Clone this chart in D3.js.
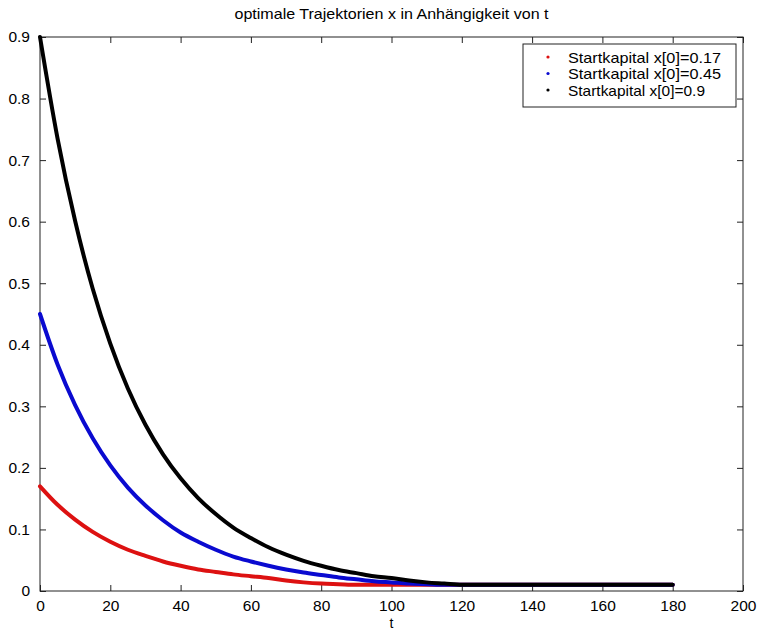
<!DOCTYPE html>
<html><head><meta charset="utf-8">
<script src="https://cdn.jsdelivr.net/npm/d3@7/dist/d3.min.js"></script>
<style>body{margin:0;background:#fff}svg{display:block}text{font-family:"Liberation Sans",Arial,sans-serif}</style>
</head><body><svg id="c" width="759" height="632"></svg>
<script>
const tValues = [0,5,10,15,20,25,30,35,40,45,50,55,60,65,70,75,80,85,90,95,100,105,110,115,120,125,130,135,140,145,150,155,160,165,170,175,180];
const red   = [0.170,0.140,0.116,0.096,0.080,0.067,0.057,0.048,0.041,0.035,0.031,0.027,0.024,0.021,0.017,0.014,0.012,0.011,0.010,0.010,0.010,0.010,0.010,0.010,0.010,0.010,0.010,0.010,0.010,0.010,0.010,0.010,0.010,0.010,0.010,0.010,0.010];
const blue  = [0.450,0.368,0.302,0.248,0.204,0.168,0.139,0.115,0.095,0.080,0.067,0.056,0.048,0.041,0.035,0.030,0.026,0.022,0.019,0.016,0.014,0.012,0.011,0.010,0.010,0.010,0.010,0.010,0.010,0.010,0.010,0.010,0.010,0.010,0.010,0.010,0.010];
const black = [0.900,0.735,0.601,0.491,0.402,0.329,0.270,0.222,0.183,0.151,0.125,0.103,0.086,0.071,0.059,0.049,0.041,0.034,0.029,0.024,0.021,0.017,0.014,0.012,0.010,0.010,0.010,0.010,0.010,0.010,0.010,0.010,0.010,0.010,0.010,0.010,0.010];
const seriesNames = ["Startkapital x[0]=0.17","Startkapital x[0]=0.45","Startkapital x[0]=0.9"];
const seriesColors = ["#dd1111","#0a0ad0","#000000"];
const xTicks = [0,20,40,60,80,100,120,140,160,180,200];
const yTicks = [0,0.1,0.2,0.3,0.4,0.5,0.6,0.7,0.8,0.9];
const title = "optimale Trajektorien x in Anhängigkeit von t";
const xLabel = "t";

const svg = d3.select("#c");
const L=40, R=743, T=37, B=591;
const x = d3.scaleLinear().domain([0,200]).range([L,R]);
const y = d3.scaleLinear().domain([0,0.9]).range([B,T]);
const axisColor = "#222";

svg.append("rect").attr("x",L).attr("y",T).attr("width",R-L).attr("height",B-T)
  .attr("fill","none").attr("stroke",axisColor).attr("stroke-width",1);

const fmtY = d => d===0 ? "0" : d3.format(".1f")(d);
const gx = svg.append("g").attr("transform",`translate(0,${B})`)
  .call(d3.axisBottom(x).tickValues(xTicks).tickSize(-6).tickPadding(9).tickFormat(d3.format("d")));
const gxt = svg.append("g").attr("transform",`translate(0,${T})`)
  .call(d3.axisTop(x).tickValues(xTicks).tickSize(-6).tickFormat(""));
const gy = svg.append("g").attr("transform",`translate(${L},0)`)
  .call(d3.axisLeft(y).tickValues(yTicks).tickSize(-6).tickPadding(10).tickFormat(fmtY));
const gyr = svg.append("g").attr("transform",`translate(${R},0)`)
  .call(d3.axisRight(y).tickValues(yTicks).tickSize(-6).tickFormat(""));
[gx,gxt,gy,gyr].forEach(g=>{
  g.select(".domain").remove();
  g.selectAll("line").attr("stroke",axisColor);
  g.selectAll("text").attr("fill","#000").style("font-size","15.5px").style("font-family",'"Liberation Sans",Arial,sans-serif');
});

const data = [red,blue,black];
const line = d3.line().x((d,i)=>x(tValues[i])).y(d=>y(d)).curve(d3.curveMonotoneX);
data.forEach((s,k)=>{
  svg.append("path").attr("d",line(s)).attr("fill","none")
    .attr("stroke",seriesColors[k]).attr("stroke-width",4).attr("stroke-linecap","round").attr("stroke-linejoin","round");
});

svg.append("text").attr("x",(L+R)/2).attr("y",19).attr("text-anchor","middle")
  .style("font-size","14.5px").attr("textLength",314).attr("lengthAdjust","spacingAndGlyphs").text(title);
svg.append("text").attr("x",(L+R)/2).attr("y",628).attr("text-anchor","middle")
  .style("font-size","14px").text(xLabel);

const lg = svg.append("g");
lg.append("rect").attr("x",523).attr("y",44).attr("width",213).attr("height",63)
  .attr("fill","#fff").attr("stroke",axisColor).attr("stroke-width",1);
const legendLens = [153,153,137];
seriesNames.forEach((n,k)=>{
  const cy = 57 + k*16.5;
  lg.append("circle").attr("cx",548).attr("cy",cy).attr("r",1.6).attr("fill",seriesColors[k]);
  lg.append("text").attr("x",568).attr("y",cy+5.5).style("font-size","15px")
    .attr("textLength",legendLens[k]).attr("lengthAdjust","spacingAndGlyphs").text(n);
});
</script></body></html>
